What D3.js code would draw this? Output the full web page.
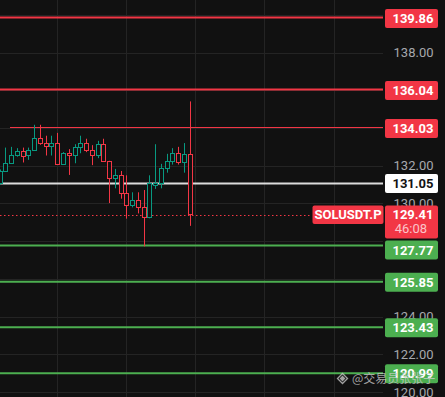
<!DOCTYPE html>
<html>
<head>
<meta charset="utf-8">
<script src="https://cdn.jsdelivr.net/npm/d3@7"></script>
<style>
  html, body { margin: 0; padding: 0; background: #111111; }
  svg { display: block; }
</style>
</head>
<body>
<svg id="chart" width="445" height="397"></svg>
<script>
// ---- data ----
const candleIndex = d3.range(34);
const opens  = [131.09,131.74,132.13,132.56,132.79,132.56,132.82,133.46,133.20,133.04,133.20,132.08,132.66,132.57,132.98,133.20,132.82,132.56,133.16,132.24,131.31,131.49,130.54,129.90,130.17,129.79,129.26,130.98,131.07,131.87,132.24,132.66,132.19,132.61];
const highs  = [131.80,132.96,133.00,132.93,132.96,132.96,134.17,134.17,133.59,133.59,133.74,132.72,132.88,133.14,133.59,133.43,133.09,133.32,133.43,132.26,131.83,131.72,131.49,130.59,130.59,130.71,131.49,133.14,132.10,132.63,132.93,133.00,133.20,135.41];
const lows   = [131.00,131.70,132.10,132.48,132.17,132.31,132.80,133.11,132.54,132.54,132.06,132.06,131.51,132.13,132.66,132.72,132.03,132.40,132.22,130.02,130.80,130.25,129.19,129.79,129.47,127.72,129.21,130.77,130.80,131.63,132.06,132.06,131.63,128.81];
const closes = [131.72,132.15,132.56,132.77,132.54,132.84,133.46,133.20,133.02,133.20,132.08,132.66,132.57,132.98,133.20,132.84,132.56,133.16,132.24,131.34,131.49,130.54,129.90,130.17,129.79,129.26,131.07,131.07,131.87,132.24,132.66,132.19,132.61,129.41];

const priceGrid = [140, 138, 136, 134, 132, 130, 128, 126, 124, 122, 120];
const priceTickLabels = [138, 132, 130, 124, 122, 120];
const timeGridIndex = [10, 22, 34, 46, 58];
const resistanceLevels = [139.86, 136.04];
const trendLevel = [134.03];
const pivotLevel = [131.05];
const supportLevels = [127.77, 125.85, 123.43, 120.99];
const lastPrice = 129.41;
const symbolName = "SOLUSDT.P";
const countdown = "46:08";
const watermark = "@交易员张张子";

// ---- styles ----
const BG = "#111111", GRID = "#242424", UP = "#089981", DOWN = "#f23645",
      SUP = "#4caf50", PIVOT = "#dcdcdc", AXIS_TXT = "#a6a8ad";
const plotRight = 383;

const svg = d3.select("#chart");
svg.append("rect").attr("width", 445).attr("height", 397).attr("fill", BG);

const y = d3.scaleLinear().domain([139.86, 120.99]).range([17.5, 373.3]);
const x = d3.scaleLinear().domain([0, 58]).range([-0.3, 333.5]);
const px = v => Math.round(v) + 0.5;

// grid
const grid = svg.append("g");
grid.selectAll("line.h").data(priceGrid).join("line")
  .attr("x1", 0).attr("x2", plotRight)
  .attr("y1", d => px(y(d))).attr("y2", d => px(y(d)))
  .attr("stroke", GRID).attr("stroke-width", 1);
grid.selectAll("line.v").data(timeGridIndex).join("line")
  .attr("x1", d => px(x(d))).attr("x2", d => px(x(d)))
  .attr("y1", 0).attr("y2", 397)
  .attr("stroke", GRID).attr("stroke-width", 1);

// price axis tick labels
const axis = d3.axisRight(y).tickValues(priceTickLabels).tickFormat(d3.format(".2f")).tickSize(0);
const axisG = svg.append("g").attr("transform", "translate(433.5,0)").call(axis);
axisG.select(".domain").remove();
axisG.selectAll("text")
  .attr("x", 0).attr("text-anchor", "end")
  .attr("fill", AXIS_TXT)
  .style("font-family", "Roboto, 'Liberation Sans', sans-serif")
  .style("font-size", "13px");

// level lines
const lines = svg.append("g");
lines.selectAll("line.res").data(resistanceLevels).join("line")
  .attr("x1", 0).attr("x2", plotRight)
  .attr("y1", d => y(d)).attr("y2", d => y(d))
  .attr("stroke", DOWN).attr("stroke-width", 2);
lines.selectAll("line.trend").data(trendLevel).join("line")
  .attr("x1", 10).attr("x2", plotRight)
  .attr("y1", d => px(y(d))).attr("y2", d => px(y(d)))
  .attr("stroke", DOWN).attr("stroke-width", 1.2);
lines.selectAll("line.sup").data(supportLevels).join("line")
  .attr("x1", 0).attr("x2", plotRight)
  .attr("y1", d => y(d)).attr("y2", d => y(d))
  .attr("stroke", SUP).attr("stroke-width", 2);
lines.selectAll("line.piv").data(pivotLevel).join("line")
  .attr("x1", 0).attr("x2", plotRight)
  .attr("y1", d => y(d)).attr("y2", d => y(d))
  .attr("stroke", PIVOT).attr("stroke-width", 2);
// last price dotted
lines.append("line")
  .attr("x1", 0).attr("x2", 312)
  .attr("y1", px(y(lastPrice))).attr("y2", px(y(lastPrice)))
  .attr("stroke", DOWN).attr("stroke-width", 1)
  .attr("stroke-dasharray", "1.5,2.5");

// candles
const cg = svg.append("g");
const candles = candleIndex.map(i => ({i, o: opens[i], h: highs[i], l: lows[i], c: closes[i]}));
const col = d => d.c >= d.o ? UP : DOWN;
cg.selectAll("line.wick").data(candles).join("line")
  .attr("x1", d => px(x(d.i))).attr("x2", d => px(x(d.i)))
  .attr("y1", d => y(d.h)).attr("y2", d => y(d.l))
  .attr("stroke", col).attr("stroke-width", 1);
cg.selectAll("rect.body").data(candles).join("rect")
  .attr("x", d => px(x(d.i)) - 2)
  .attr("width", 4)
  .attr("y", d => Math.round(y(Math.max(d.o, d.c))) + 0.5)
  .attr("height", d => Math.max(1, Math.round(Math.abs(y(d.o) - y(d.c)))))
  .attr("fill", BG).attr("stroke", col).attr("stroke-width", 1);

// price labels
const lab = svg.append("g").style("font-family", "Roboto, 'Liberation Sans', sans-serif")
  .style("font-size", "13px").style("font-weight", "bold");
const labels = [
  ...resistanceLevels.map(v => ({v, cy: y(v) + 1, bg: DOWN, fg: "#ffffff"})),
  ...trendLevel.map(v => ({v, cy: y(v) + 1, bg: DOWN, fg: "#ffffff"})),
  ...pivotLevel.map(v => ({v, cy: y(v), bg: "#ffffff", fg: "#131313"})),
  ...supportLevels.map((v, k) => ({v, cy: k === 0 ? y(v) + 4.5 : y(v) + 0.5, bg: SUP, fg: "#ffffff"}))
];
labels.forEach(d => {
  lab.append("rect").attr("x", 385).attr("width", 53).attr("y", d.cy - 9.5).attr("height", 19)
    .attr("rx", 2).attr("fill", d.bg);
  lab.append("text").attr("x", 433.5).attr("y", d.cy).attr("dy", "0.36em")
    .attr("text-anchor", "end").attr("fill", d.fg).text(d3.format(".2f")(d.v));
});
// last price label with countdown
const ly = y(lastPrice);
lab.append("rect").attr("x", 385).attr("width", 53).attr("y", ly - 9).attr("height", 33)
  .attr("rx", 2).attr("fill", DOWN);
lab.append("text").attr("x", 433.5).attr("y", ly).attr("dy", "0.36em")
  .attr("text-anchor", "end").attr("fill", "#ffffff").text(d3.format(".2f")(lastPrice));
lab.append("text").attr("x", 427).attr("y", ly + 13.5).attr("dy", "0.36em")
  .attr("text-anchor", "end").attr("fill", "#fbc4c9").style("font-weight", "normal").text(countdown);
// symbol label
lab.append("rect").attr("x", 312.5).attr("width", 71).attr("y", ly - 9).attr("height", 18.5)
  .attr("rx", 2).attr("fill", DOWN);
lab.append("text").attr("x", 348).attr("y", ly).attr("dy", "0.36em")
  .attr("text-anchor", "middle").attr("fill", "#ffffff").text(symbolName);

// watermark
const wm = svg.append("g").attr("opacity", 0.75);
const ic = wm.append("g").attr("transform", "translate(342.5,378.5)").attr("fill", "none")
  .attr("stroke", "#d0d0d0").attr("stroke-width", 1.3);
ic.append("path").attr("d", "M0,-5 L5,0 L0,5 L-5,0 Z");
ic.append("path").attr("d", "M0,-2 L2,0 L0,2 L-2,0 Z").attr("fill", "#d0d0d0");
wm.append("text").attr("x", 352).attr("y", 378.5).attr("dy", "0.36em")
  .attr("fill", "#d0d0d0")
  .style("font-family", "'Noto Sans CJK SC', sans-serif").style("font-size", "12px")
  .text(watermark);
</script>
</body>
</html>
